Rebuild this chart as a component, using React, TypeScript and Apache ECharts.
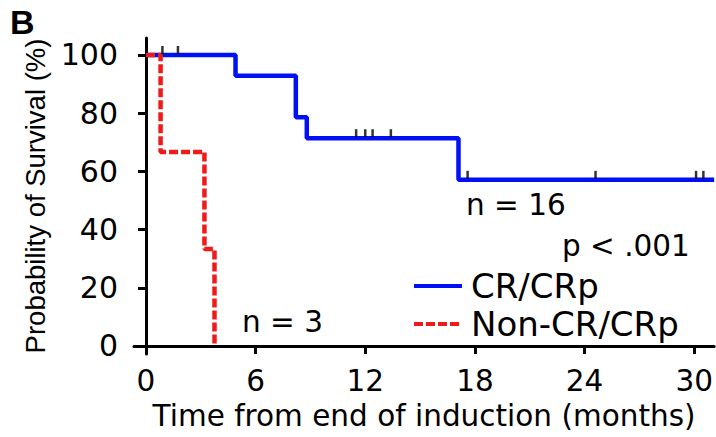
import React, { useEffect, useRef } from "react";
import * as echarts from "echarts";

// Kaplan-Meier steps (time in months, survival in %)
const crTimes = [0, 4.9, 8.2, 8.8, 17.1, 31.09];
const crSurv = [100, 92.9, 78.6, 71.4, 57.1, 57.1];
const crCensorTimes = [0.9, 1.75, 11.5, 12.0, 12.4, 13.4, 17.6, 24.6, 30.1, 30.5];

const nonTimes = [0, 0.8, 3.2, 3.75];
const nonSurv = [100, 66.7, 33.3, 0];

const xTicks = [0, 6, 12, 18, 24, 30];
const yTicks = [0, 20, 40, 60, 80, 100];

const seriesNames = ["CR/CRp", "Non-CR/CRp"];
const annotations = { crN: "n = 16", nonN: "n = 3", p: "p < .001", panel: "B" };

function survAt(times: number[], surv: number[], t: number) {
  let v = surv[0];
  for (let i = 0; i < times.length; i++) if (times[i] <= t) v = surv[i];
  return v;
}

const FONT = "DejaVu Sans";
const FONT2 = "Liberation Sans";

export default function App() {
  const ref = useRef<HTMLDivElement>(null);
  useEffect(() => {
    if (!ref.current) return;
    const chart = echarts.init(ref.current, null, { renderer: "svg" });
    const crData = crTimes.map((t, i) => [t, crSurv[i]]);
    const nonData = nonTimes.map((t, i) => [t, nonSurv[i]]);
    const censorData = crCensorTimes.map((t) => [t, survAt(crTimes, crSurv, t)]);
    chart.setOption({
      animation: false,
      backgroundColor: "#ffffff",
      grid: { left: 134, right: 0, top: 38, bottom: 83 },
      xAxis: {
        type: "value",
        min: -0.655,
        max: 31.09,
        name: "Time from end of induction (months)",
        nameLocation: "middle",
        nameGap: 47,
        nameTextStyle: { fontFamily: FONT, fontSize: 29.5, color: "#000" },
        axisLine: { show: true, lineStyle: { color: "#000", width: 3 } },
        axisTick: { show: true, length: 8, lineStyle: { color: "#000", width: 3 }, customValues: xTicks },
        axisLabel: { fontFamily: FONT, fontSize: 29.5, color: "#000", margin: 12, customValues: xTicks },
        splitLine: { show: false },
      },
      yAxis: {
        type: "value",
        min: -2.75,
        max: 105.84,
        name: "Probability of Survival (%)",
        nameLocation: "middle",
        nameGap: 84,
        nameTextStyle: { fontFamily: FONT2, fontSize: 27.5, color: "#000" },
        axisLine: { show: true, lineStyle: { color: "#000", width: 3 } },
        axisTick: { show: true, length: 8, lineStyle: { color: "#000", width: 3 }, customValues: yTicks },
        axisLabel: { fontFamily: FONT, fontSize: 30, color: "#000", margin: 16, customValues: yTicks },
        splitLine: { show: false },
      },
      legend: {
        orient: "vertical",
        left: 412,
        top: 268,
        padding: 0,
        itemWidth: 48,
        itemHeight: 14,
        itemGap: 2,
        data: seriesNames,
        itemStyle: { opacity: 0 },
        lineStyle: { width: 4 },
        textStyle: { fontFamily: FONT, fontSize: 34, color: "#000", lineHeight: 36, padding: [0, 0, 0, 4] },
      },
      series: [
        {
          name: seriesNames[0],
          type: "line",
          step: "end",
          data: crData,
          symbol: "none",
          lineStyle: { color: "#0010f5", width: 4.5 },
          itemStyle: { color: "#0010f5" },
          z: 2,
        },
        {
          name: seriesNames[1],
          type: "line",
          step: "end",
          data: nonData,
          symbol: "none",
          lineStyle: { color: "#f01a1a", width: 4.5, type: [9, 3] },
          itemStyle: { color: "#f01a1a" },
          z: 3,
        },
        {
          name: "censor",
          type: "scatter",
          data: censorData,
          symbol: "rect",
          symbolSize: [2.5, 8],
          symbolOffset: [0, -5],
          itemStyle: { color: "#000" },
          z: 4,
          silent: true,
        },
      ],
      graphic: [
        { type: "text", left: 10, top: 5, style: { text: annotations.panel, font: `bold 34px ${FONT2}`, fill: "#000" } },
        { type: "text", x: 466, y: 205, style: { text: annotations.crN, fontFamily: FONT, fontSize: 29.5, fill: "#000", textVerticalAlign: "middle" } },
        { type: "text", x: 562, y: 246, style: { text: annotations.p, fontFamily: FONT, fontSize: 29.5, fill: "#000", textVerticalAlign: "middle" } },
        { type: "text", x: 242, y: 322, style: { text: annotations.nonN, fontFamily: FONT, fontSize: 29.5, fill: "#000", textVerticalAlign: "middle" } },
      ],
    });
    return () => chart.dispose();
  }, []);
  return (
    <div
      ref={ref}
      style={{ position: "fixed", left: 0, top: 0, width: 716, height: 437, background: "#fff" }}
    />
  );
}
